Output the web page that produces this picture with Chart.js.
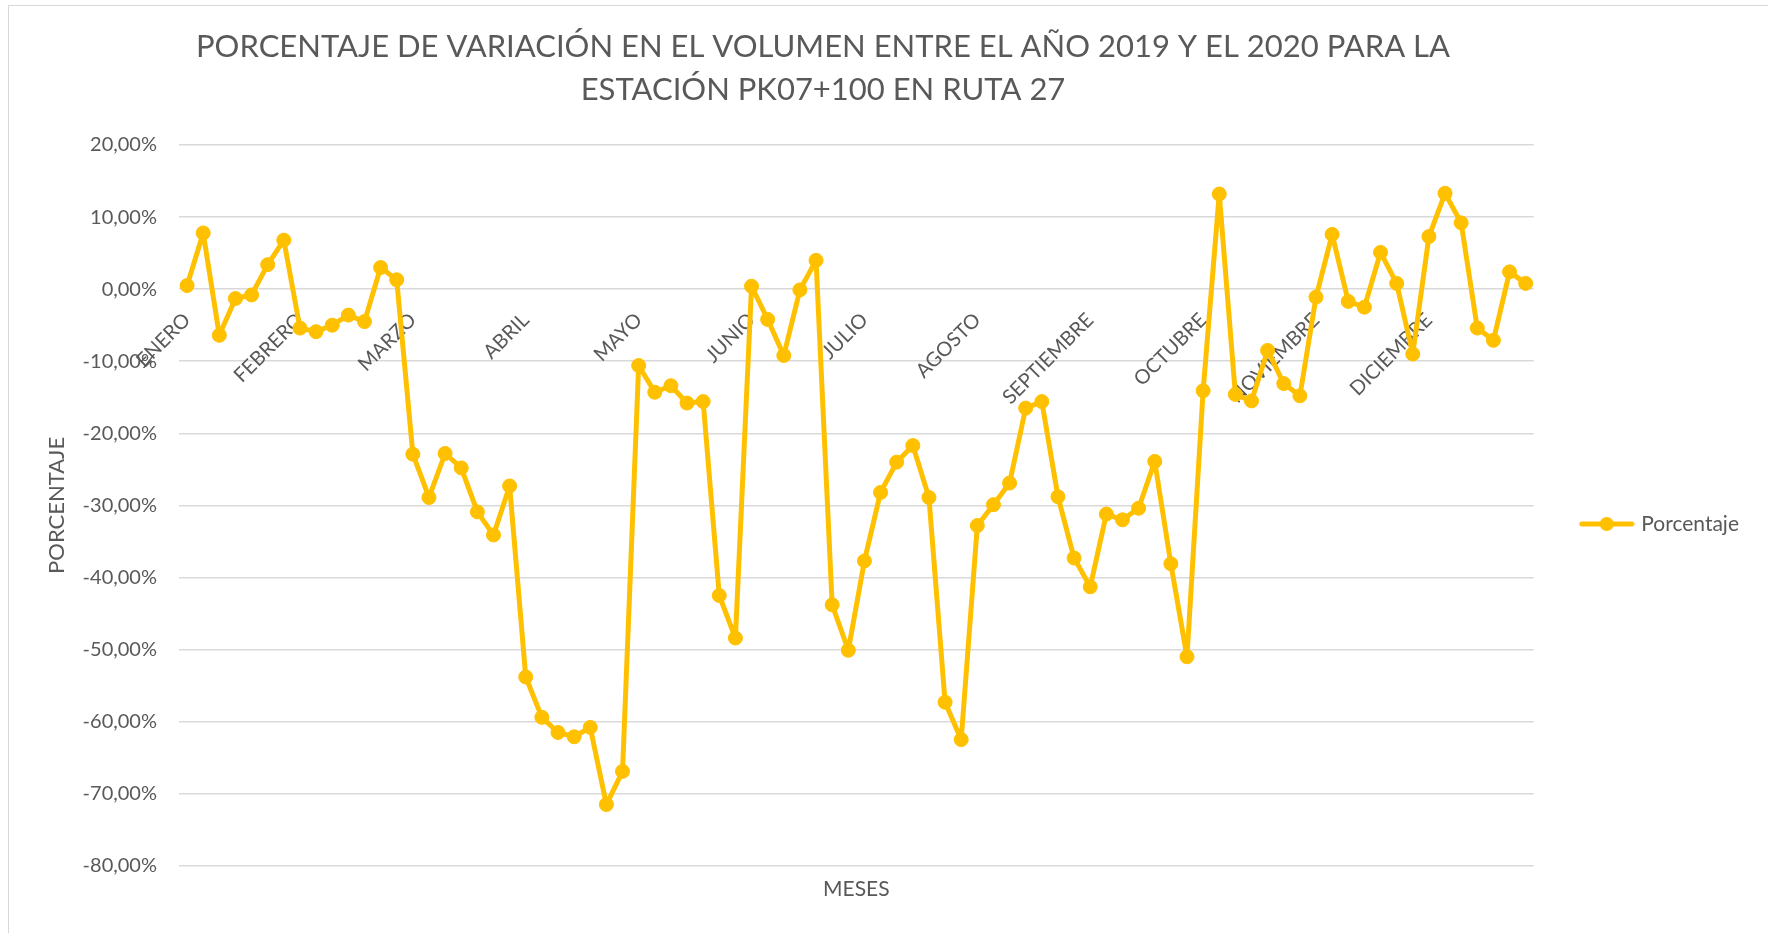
<!DOCTYPE html>
<html lang="es">
  <head>
    <meta charset="UTF-8" />
    <title>Porcentaje de variación en el volumen 2019 - 2020</title>
    <script src="https://cdn.jsdelivr.net/npm/chart.js"></script>
    <style>
      html,
      body {
        margin: 0;
        padding: 0;
        background: #fff;
        overflow: hidden;
      }
      .marco {
        position: absolute;
        left: 8px;
        top: 5px;
        width: 1790px;
        height: 960px;
        border-left: 1.5px solid #d9d9d9;
        border-top: 1.5px solid #d9d9d9;
      }
      .contenedor {
        position: absolute;
        left: 0;
        top: 0;
        width: 1768px;
        height: 933px;
      }
    </style>
  </head>
  <body>
    <div class="marco"></div>
    <div class="contenedor">
      <canvas id="graficoVariacion"></canvas>
    </div>

    <script>
      // meses del año, 7 registros (semanas) por mes
      var meses = [
        "ENERO", "FEBRERO", "MARZO", "ABRIL", "MAYO", "JUNIO",
        "JULIO", "AGOSTO", "SEPTIEMBRE", "OCTUBRE", "NOVIEMBRE", "DICIEMBRE",
      ];
      var semanasPorMes = 7;

      // porcentaje de variación 2019 -> 2020 (en %)
      var porcentaje = [
        0.5, 7.8, -6.4, -1.3, -0.8, 3.4, 6.8,
        -5.4, -5.9, -5.0, -3.6, -4.5, 3.0, 1.3,
        -22.9, -28.9, -22.8, -24.8, -30.9, -34.1, -27.3,
        -53.8, -59.4, -61.5, -62.1, -60.8, -71.5, -66.9,
        -10.6, -14.3, -13.4, -15.8, -15.6, -42.5, -48.4,
        0.4, -4.2, -9.2, -0.1, 4.0, -43.8, -50.1,
        -37.7, -28.2, -24.0, -21.7, -28.9, -57.3, -62.5,
        -32.8, -29.9, -26.9, -16.5, -15.6, -28.8, -37.3,
        -41.3, -31.2, -32.0, -30.4, -23.9, -38.1, -51.0,
        -14.1, 13.2, -14.6, -15.5, -8.5, -13.1, -14.8,
        -1.1, 7.6, -1.7, -2.5, 5.1, 0.8, -9.0,
        7.3, 13.3, 9.2, -5.4, -7.1, 2.4, 0.8,
      ];

      var ejeY = { min: -80, max: 20, paso: 10 };

      var titulo = [
        "PORCENTAJE DE VARIACIÓN EN EL VOLUMEN ENTRE EL AÑO 2019 Y EL 2020 PARA LA",
        "ESTACIÓN PK07+100 EN RUTA 27",
      ];

      var gris = "#595959";
      var amarillo = "#FFC000";
      Chart.defaults.font.family = "Lato, 'Open Sans', sans-serif";
      Chart.defaults.color = gris;

      // una etiqueta por mes, el resto de semanas en blanco
      var etiquetas = [];
      meses.forEach(function (m) {
        etiquetas.push(m);
        for (var i = 1; i < semanasPorMes; i++) etiquetas.push("");
      });

      // icono de la leyenda: línea con marcador
      function iconoLeyenda() {
        var c = document.createElement("canvas");
        c.width = 56;
        c.height = 16;
        var g = c.getContext("2d");
        g.strokeStyle = amarillo;
        g.lineWidth = 5;
        g.lineCap = "round";
        g.beginPath();
        g.moveTo(3, 8);
        g.lineTo(53, 8);
        g.stroke();
        g.fillStyle = amarillo;
        g.beginPath();
        g.arc(28, 8, 7, 0, Math.PI * 2);
        g.fill();
        return c;
      }

      // título en dos líneas
      var tituloPlugin = {
        id: "tituloGrafico",
        afterDraw: function (chart) {
          var ctx = chart.ctx;
          ctx.save();
          ctx.font = "31px Lato";
          ctx.fillStyle = gris;
          ctx.textAlign = "center";
          ctx.textBaseline = "middle";
          ctx.fillText(titulo[0], 823, 47);
          ctx.fillText(titulo[1], 823, 90);
          ctx.restore();
        },
      };

      var ctxVariacion = document
        .getElementById("graficoVariacion")
        .getContext("2d");
      var graficoVariacion = new Chart(ctxVariacion, {
        type: "line",
        data: {
          labels: etiquetas,
          datasets: [
            {
              label: "Porcentaje",
              data: porcentaje,
              borderColor: amarillo,
              backgroundColor: amarillo,
              borderWidth: 5,
              borderJoinStyle: "round",
              borderCapStyle: "round",
              pointRadius: 7,
              pointBorderWidth: 1,
              pointBackgroundColor: amarillo,
              pointBorderColor: amarillo,
              tension: 0,
              xAxisID: "x",
            },
          ],
        },
        options: {
          responsive: true,
          maintainAspectRatio: false,
          animation: false,
          layout: {
            padding: { left: 40, right: 19, top: 145, bottom: 30 },
          },
          plugins: {
            title: { display: false },
            tooltip: { enabled: false },
            legend: {
              position: "right",
              labels: {
                usePointStyle: true,
                pointStyle: iconoLeyenda(),
                pointStyleWidth: 48,
                padding: 49,
                color: gris,
                font: { size: 21 },
              },
            },
          },
          scales: {
            x: {
              type: "category",
              offset: true,
              grid: { display: false, drawTicks: false },
              border: { display: false },
              ticks: { display: false },
              title: {
                display: true,
                text: "MESES",
                color: gris,
                font: { size: 21 },
                padding: { top: 11, bottom: 1 },
              },
            },
            xMes: {
              type: "category",
              axis: "x",
              position: { y: 0 },
              offset: true,
              grid: { display: false, drawTicks: false },
              border: { display: false },
              ticks: {
                autoSkip: false,
                maxRotation: 45,
                minRotation: 45,
                padding: 19,
                color: gris,
                font: { size: 20 },
              },
            },
            y: {
              min: ejeY.min,
              max: ejeY.max,
              ticks: {
                stepSize: ejeY.paso,
                padding: 22,
                color: gris,
                font: { size: 20 },
                callback: function (v) {
                  return v.toFixed(2).replace(".", ",") + "%";
                },
              },
              grid: { color: "#d9d9d9", lineWidth: 1.5, drawTicks: false },
              border: { display: false },
              title: {
                display: true,
                text: "PORCENTAJE",
                color: gris,
                font: { size: 22 },
              },
              afterFit: function (s) {
                s.width = 139;
              },
            },
          },
        },
        plugins: [tituloPlugin],
      });
    </script>
  </body>
</html>
